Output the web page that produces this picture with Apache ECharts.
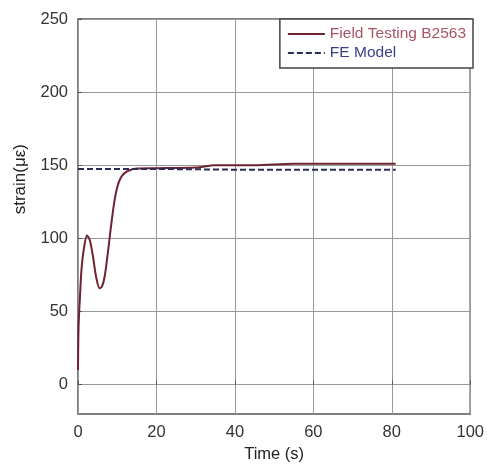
<!DOCTYPE html>
<html>
<head>
<meta charset="utf-8">
<script src="https://cdn.jsdelivr.net/npm/echarts@6/dist/echarts.min.js"></script>
<style>
  html, body { margin: 0; padding: 0; background: #fff; }
  #chart { width: 487px; height: 468px; }
</style>
</head>
<body>
<div id="chart"></div>
<script>
// Field test record (time in s, strain in micro-strain)
const fieldTime = [0, 0.15, 0.5, 0.9, 1.5, 2.3, 3.0, 3.8, 4.6, 5.5, 6.1, 6.8, 7.6, 8.4, 9.2, 10, 10.9, 12, 13.5, 15, 20, 30, 35, 45, 55, 65, 81]
const fieldStrain = [10, 40, 60, 79, 93, 102, 99, 88, 74, 66, 67, 74, 90, 108, 124, 135, 141.5, 145, 147, 147.8, 148, 148.5, 150, 150, 151, 151, 151]

// FE model (static response)
const feTime = [0, 20, 40, 60, 81]
const feStrain = [147.5, 147.5, 147, 147, 147]

const xTicks = [0, 20, 40, 60, 80, 100]
const yTicks = [0, 50, 100, 150, 200, 250]

const fieldName = 'Field Testing B2563'
const feName = 'FE Model'

const toPairs = (xs, ys) => xs.map((x, i) => [x, ys[i]])

const FONT = 'Liberation Sans, Arial, sans-serif'
const axisFont = { color: '#333', fontSize: 16.5, fontFamily: FONT }
const gridLine = { lineStyle: { color: '#999', width: 1 } }
const tickStyle = { inside: true, length: 4, lineStyle: { color: '#555' } }

const chart = echarts.init(document.getElementById('chart'))

chart.setOption({
  animation: false,
  backgroundColor: '#fff',
  grid: {
    left: 78, right: 14, top: 19, bottom: 51,
    show: true, borderColor: '#555', borderWidth: 1.5
  },
  legend: {
    right: 14, top: 19,
    orient: 'vertical',
    backgroundColor: '#fff',
    borderColor: '#444', borderWidth: 1.5, borderRadius: 0,
    padding: [7, 7, 7, 7],
    itemGap: 3,
    itemWidth: 37, itemHeight: 12,
    itemStyle: { opacity: 0 },
    textStyle: { fontSize: 15.5, fontFamily: FONT },
    data: [
      { name: fieldName, textStyle: { color: '#a85566' } },
      { name: feName, textStyle: { color: '#3a3f88' } }
    ]
  },
  xAxis: [{
    type: 'value', min: xTicks[0], max: xTicks[xTicks.length - 1], interval: 20,
    name: 'Time (s)', nameLocation: 'middle', nameGap: 32,
    nameTextStyle: { color: '#222', fontSize: 16.5, fontFamily: FONT },
    axisLine: { show: false },
    axisTick: tickStyle,
    axisLabel: { ...axisFont, margin: 10 },
    splitLine: { show: true, ...gridLine }
  }],
  yAxis: [{
    type: 'value', min: -20, max: 250,
    axisLine: { show: false },
    axisTick: { ...tickStyle, customValues: yTicks },
    axisLabel: { ...axisFont, margin: 10, customValues: yTicks },
    splitLine: { show: true, ...gridLine }
  }],
  graphic: [{
    type: 'text', left: 12, top: 144, rotation: Math.PI / 2,
    style: { text: 'strain(με)', fill: '#222', font: '17px ' + FONT }
  }],
  series: [
    {
      name: fieldName, type: 'line', data: toPairs(fieldTime, fieldStrain),
      showSymbol: false, symbol: 'none', smooth: 0.3,
      lineStyle: { color: '#6e2232', width: 2 },
      itemStyle: { color: '#6e2232' }, z: 3
    },
    {
      name: feName, type: 'line', data: toPairs(feTime, feStrain),
      showSymbol: false, symbol: 'none',
      lineStyle: { color: '#2a2d5a', width: 2, type: [6, 3] },
      itemStyle: { color: '#2a2d5a' }, z: 4
    }
  ]
})
</script>
</body>
</html>
